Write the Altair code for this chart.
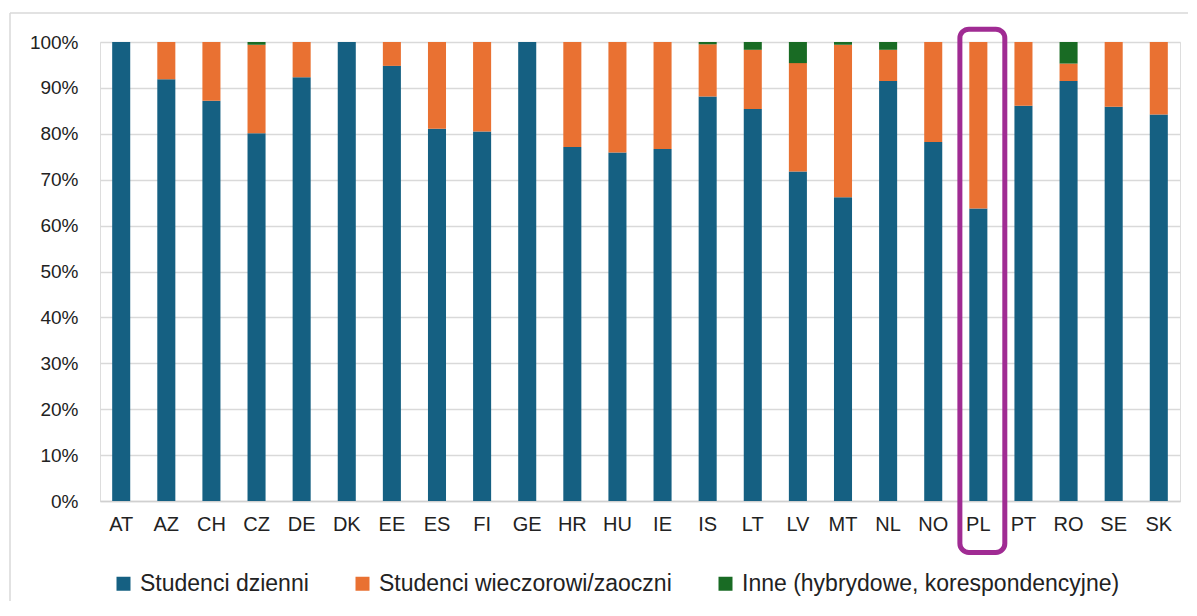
import altair as alt
import pandas as pd

countries = ["AT", "AZ", "CH", "CZ", "DE", "DK", "EE", "ES", "FI", "GE", "HR", "HU",
             "IE", "IS", "LT", "LV", "MT", "NL", "NO", "PL", "PT", "RO", "SE", "SK"]
dzienni = [1.000, 0.919, 0.872, 0.801, 0.923, 1.000, 0.948, 0.811, 0.805, 1.000, 0.771, 0.759,
           0.767, 0.881, 0.854, 0.718, 0.662, 0.915, 0.782, 0.637, 0.861, 0.915, 0.859, 0.842]
wieczorowi = [0.000, 0.081, 0.128, 0.193, 0.077, 0.000, 0.052, 0.189, 0.195, 0.000, 0.229, 0.241,
              0.233, 0.114, 0.129, 0.236, 0.332, 0.068, 0.218, 0.363, 0.139, 0.038, 0.141, 0.158]
inne = [0.000, 0.000, 0.000, 0.006, 0.000, 0.000, 0.000, 0.000, 0.000, 0.000, 0.000, 0.000,
        0.000, 0.005, 0.017, 0.046, 0.006, 0.017, 0.000, 0.000, 0.000, 0.047, 0.000, 0.000]
series = ["Studenci dzienni", "Studenci wieczorowi/zaoczni", "Inne (hybrydowe, korespondencyjne)"]
colors = ["#156082", "#E97132", "#196B24"]
highlight = ["PL"]

rows = []
for i, c in enumerate(countries):
    for k, (name, vals) in enumerate(zip(series, [dzienni, wieczorowi, inne])):
        rows.append({"kraj": c, "typ": name, "udzial": vals[i], "kolejnosc": k})
df = pd.DataFrame(rows)

FONT = "Liberation Sans"

x_enc = alt.X("kraj:N", sort=countries, title=None,
              scale=alt.Scale(paddingInner=0.6, paddingOuter=0.27),
              axis=alt.Axis(labelAngle=0, labelFontSize=20, labelColor="#222222",
                            labelFont=FONT, ticks=False, domainColor="#d0d0d0",
                            domainWidth=1.5, labelPadding=13))

bars = alt.Chart(df).mark_bar().encode(
    x=x_enc,
    y=alt.Y("udzial:Q", stack="zero", title=None,
            scale=alt.Scale(domain=[0, 1], nice=False),
            axis=alt.Axis(format=".0%", values=[i / 10 for i in range(11)],
                          labelFontSize=19, labelColor="#222222", labelFont=FONT,
                          ticks=False, domain=False, gridColor="#d9d9d9",
                          gridWidth=1.5, labelPadding=22)),
    color=alt.Color("typ:N", sort=series,
                    scale=alt.Scale(domain=series, range=colors),
                    legend=alt.Legend(title=None, orient="none", direction="horizontal",
                                      legendX=12, legendY=530, columns=3,
                                      symbolType="square", symbolSize=196,
                                      symbolStrokeWidth=0, labelFontSize=23,
                                      labelFont=FONT, labelColor="#222222",
                                      labelLimit=0, columnPadding=42, labelOffset=5)),
    order=alt.Order("kolejnosc:Q"),
)

hl_df = pd.DataFrame({"kraj": highlight, "gora": [1.028], "dol": [-0.112]})
box = alt.Chart(hl_df).mark_bar(
    filled=False, stroke="#A02B93", strokeWidth=5, cornerRadius=9, clip=False,
    width=alt.RelativeBandSize(2.49), xOffset=4,
).encode(
    x=alt.X("kraj:N", sort=countries),
    y=alt.Y("gora:Q"),
    y2="dol:Q",
)

frame_top = alt.Chart(hl_df).mark_rule(color="#d9d9d9", strokeWidth=1.5, clip=False).encode(
    x=alt.value(-90), x2=alt.value(1100), y=alt.value(-29))
frame_left = alt.Chart(hl_df).mark_rule(color="#d9d9d9", strokeWidth=1.5, clip=False).encode(
    x=alt.value(-90), y=alt.value(-29), y2=alt.value(580))

chart = alt.layer(frame_top, frame_left, bars, box).properties(
    width=1080, height=459,
    autosize=alt.AutoSizeParams(type="none"),
    padding={"left": 92, "top": 34, "right": 8, "bottom": 100},
).configure_view(stroke=None).configure(background="white")

chart.save("out.html", embed_options={"renderer": "svg", "actions": False})
